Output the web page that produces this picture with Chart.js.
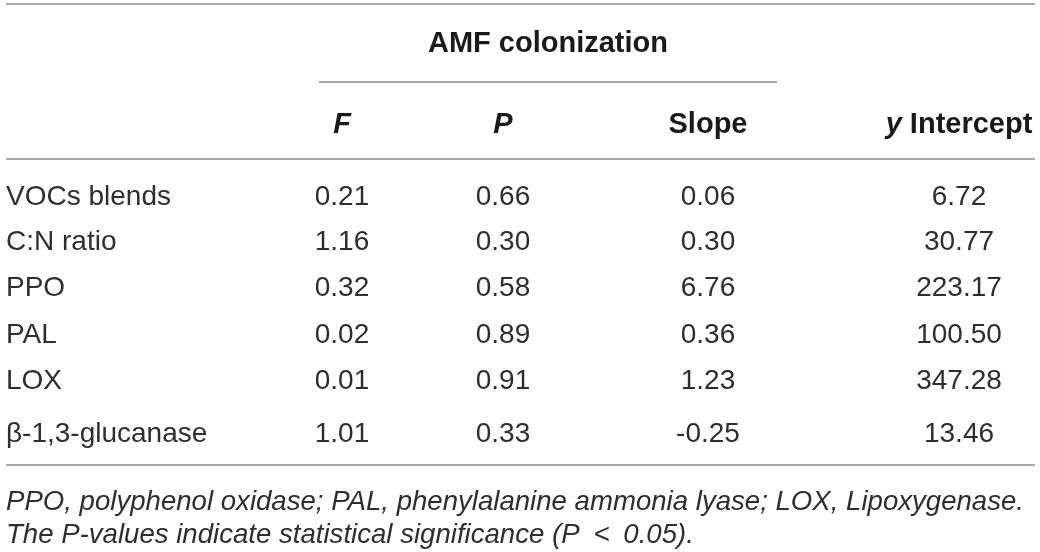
<!DOCTYPE html>
<html>
<head>
<meta charset="utf-8">
<script src="https://cdn.jsdelivr.net/npm/chart.js@4.4.1/dist/chart.umd.min.js"></script>
<style>
html,body{margin:0;padding:0;background:#fff;}
#wrap{width:1040px;height:552px;position:relative;}
</style>
</head>
<body>
<div id="wrap"><canvas id="c" width="1040" height="552"></canvas></div>
<script>
// ---- data ----
const groupTitle = "AMF colonization";
const columnHeaders = ["F", "P", "Slope", "y Intercept"];
const rowLabels = ["VOCs blends", "C:N ratio", "PPO", "PAL", "LOX", "β-1,3-glucanase"];
const fValues = [0.21, 1.16, 0.32, 0.02, 0.01, 1.01];
const pValues = [0.66, 0.30, 0.58, 0.89, 0.91, 0.33];
const slopeValues = [0.06, 0.30, 6.76, 0.36, 1.23, -0.25];
const interceptValues = [6.72, 30.77, 223.17, 100.50, 347.28, 13.46];
const footnoteLines = [
  "PPO, polyphenol oxidase; PAL, phenylalanine ammonia lyase; LOX, Lipoxygenase.",
  "The P-values indicate statistical significance (P\u2002<\u20020.05)."
];

// ---- layout (scale units == pixels) ----
const colX = [342, 503, 708, 959];
const labelX = 6;
const rowY = [195, 240, 286, 333, 379, 432];
const layoutY = {top: 4, title: 42, subRule: 82, header: 123, headRule: 159, bottomRule: 465, foot: [500, 533]};
const FONT = "'Liberation Sans', Arial, Helvetica, sans-serif";
const FS = 28;
const FSB = 29;
const FSI = 27.6;

const allColumns = [fValues, pValues, slopeValues, interceptValues];
const datasets = allColumns.map((vals, ci) => ({
  label: columnHeaders[ci],
  data: vals.map((v, ri) => ({x: colX[ci], y: rowY[ri], v: v})),
  pointRadius: 0,
  showLine: false
}));

const tablePlugin = {
  id: 'tableDraw',
  afterDatasetsDraw(chart) {
    const ctx = chart.ctx;
    const xs = chart.scales.x, ys = chart.scales.y;
    const px = v => xs.getPixelForValue(v);
    const py = v => ys.getPixelForValue(v);
    const off = FS * 0.36;
    ctx.save();
    // rules
    ctx.strokeStyle = '#8a8a8a';
    ctx.lineWidth = 1.5;
    const rule = (x1, x2, y) => { ctx.beginPath(); ctx.moveTo(px(x1), py(y)); ctx.lineTo(px(x2), py(y)); ctx.stroke(); };
    rule(6, 1035, layoutY.top);
    rule(319, 777, layoutY.subRule);
    rule(6, 1035, layoutY.headRule);
    rule(6, 1035, layoutY.bottomRule);

    ctx.textBaseline = 'alphabetic';
    // group title
    ctx.fillStyle = '#1a1a1a';
    ctx.textAlign = 'center';
    ctx.font = 'bold ' + FSB + 'px ' + FONT;
    ctx.fillText(groupTitle, px(548), py(layoutY.title) + off);
    // column headers
    columnHeaders.forEach((h, i) => {
      const x = px(colX[i]), y = py(layoutY.header) + off;
      if (h === 'F' || h === 'P') {
        ctx.font = 'italic bold ' + FSB + 'px ' + FONT;
        ctx.textAlign = 'center';
        ctx.fillText(h, x, y);
      } else if (h.startsWith('y ')) {
        const a = 'y ';
        const rest = h.slice(2);
        ctx.font = 'bold ' + FSB + 'px ' + FONT;
        const wRest = ctx.measureText(rest).width;
        ctx.font = 'italic bold ' + FSB + 'px ' + FONT;
        const wA = ctx.measureText(a).width;
        const start = x - (wA + wRest) / 2;
        ctx.textAlign = 'left';
        ctx.fillText(a, start, y);
        ctx.font = 'bold ' + FSB + 'px ' + FONT;
        ctx.fillText(rest, start + wA, y);
      } else {
        ctx.font = 'bold ' + FSB + 'px ' + FONT;
        ctx.textAlign = 'center';
        ctx.fillText(h, x, y);
      }
    });
    // row labels
    ctx.fillStyle = '#2e2e2e';
    ctx.font = FS + 'px ' + FONT;
    ctx.textAlign = 'left';
    rowLabels.forEach((r, i) => ctx.fillText(r, px(labelX), py(rowY[i]) + off));
    // values from dataset elements
    ctx.textAlign = 'center';
    chart.data.datasets.forEach((ds, di) => {
      const meta = chart.getDatasetMeta(di);
      meta.data.forEach((el, i) => {
        ctx.fillText(ds.data[i].v.toFixed(2), el.x, el.y + off);
      });
    });
    // footnote
    ctx.font = 'italic ' + FSI + 'px ' + FONT;
    ctx.textAlign = 'left';
    footnoteLines.forEach((t, i) => ctx.fillText(t, px(labelX), py(layoutY.foot[i]) + off));
    ctx.restore();
  }
};

new Chart(document.getElementById('c'), {
  type: 'scatter',
  data: {datasets: datasets},
  options: {
    responsive: false,
    animation: false,
    layout: {padding: 0},
    plugins: {legend: {display: false}, tooltip: {enabled: false}, title: {display: false}},
    scales: {
      x: {type: 'linear', min: 0, max: 1040, display: false},
      y: {type: 'linear', min: 0, max: 552, reverse: true, display: false}
    }
  },
  plugins: [tablePlugin]
});
</script>
</body>
</html>
